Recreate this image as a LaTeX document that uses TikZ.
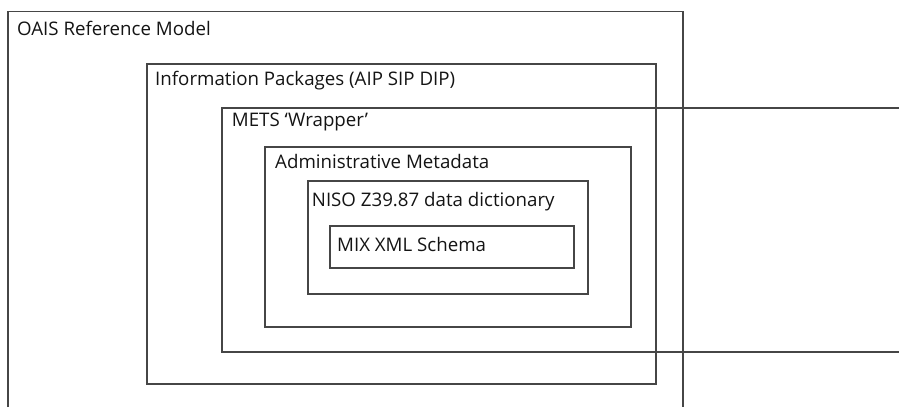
\documentclass[tikz,border=0pt]{standalone}
\usepackage{fontspec}
\setmainfont{Open Sans}
\usetikzlibrary{positioning}
\definecolor{framegrey}{RGB}{70,70,70}
\definecolor{labelblack}{RGB}{20,20,20}

\begin{document}
\begin{tikzpicture}[x=1pt, y=-1pt,
    frame/.style={draw=framegrey, line width=1.2pt},
    tag/.style={anchor=base west, inner sep=0pt, text=labelblack, font=\fontsize{18.7}{20}\selectfont}]
\useasboundingbox (0,0) rectangle (899,407);
% nested boxes, outermost first
\draw[frame] (8,407) -- (8,11.7) -- (683,11.7) -- (683,407);
\draw[frame] (147,64) rectangle (656,384);
\draw[frame] (899,108) -- (222,108) -- (222,352) -- (899,352);
\draw[frame] (265,147) rectangle (631,327);
\draw[frame] (308,181) rectangle (588,294);
\draw[frame] (330,226) rectangle (574,268);
% labels
\node[tag] (oais) at (17,35) {OAIS Reference Model};
\node[tag] (packages) at (155,85) {Information Packages (AIP SIP DIP)};
\node[tag] (mets) at (231.7,126.7) {METS ‘Wrapper’};
\node[tag] (admin) at (275,168) {Administrative Metadata};
\node[tag] (niso) at (311.7,206.7) {NISO Z39.87 data dictionary};
\node[tag] (mix) at (337,251.7) {MIX XML Schema};
\end{tikzpicture}
\end{document}
